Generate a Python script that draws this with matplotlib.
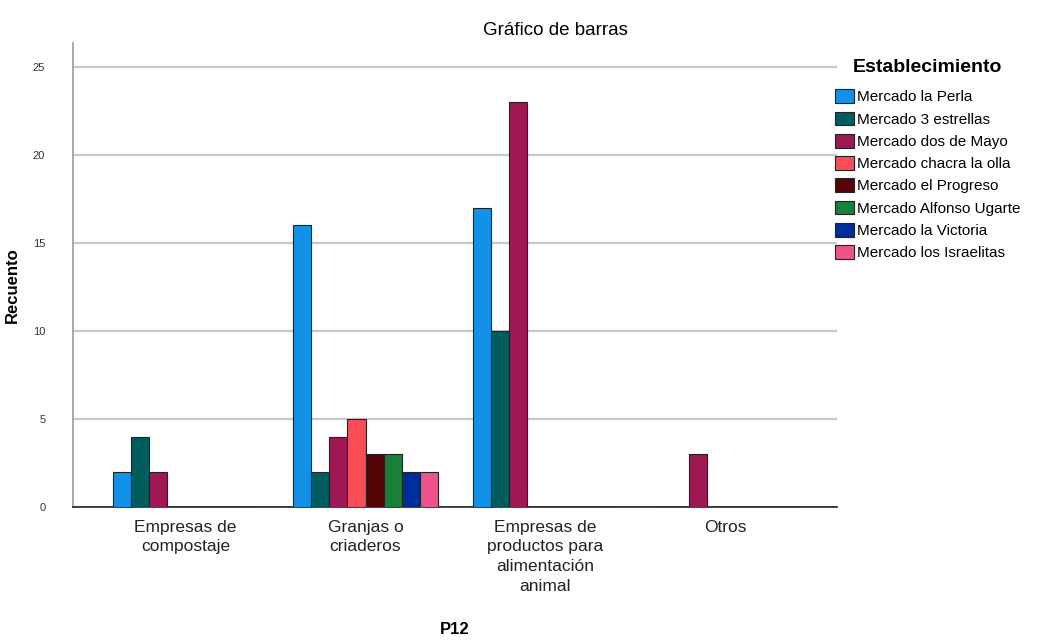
import numpy as np
import matplotlib
matplotlib.use("Agg")
import matplotlib.pyplot as plt

plt.rcParams['font.family'] = ['Liberation Sans', 'DejaVu Sans']

categories = ["Empresas de\ncompostaje", "Granjas o\ncriaderos",
              "Empresas de\nproductos para\nalimentación\nanimal", "Otros"]
mercados = ["Mercado la Perla", "Mercado 3 estrellas", "Mercado dos de Mayo",
            "Mercado chacra la olla", "Mercado el Progreso", "Mercado Alfonso Ugarte",
            "Mercado la Victoria", "Mercado los Israelitas"]
colores = ["#1192e8", "#005d5d", "#9f1853", "#fa4d56",
           "#570408", "#198038", "#002d9c", "#ee538b"]

la_perla = [2, 16, 17, 0]
tres_estrellas = [4, 2, 10, 0]
dos_de_mayo = [2, 4, 23, 3]
chacra_la_olla = [0, 5, 0, 0]
el_progreso = [0, 3, 0, 0]
alfonso_ugarte = [0, 3, 0, 0]
la_victoria = [0, 2, 0, 0]
los_israelitas = [0, 2, 0, 0]
series = [la_perla, tres_estrellas, dos_de_mayo, chacra_la_olla,
          el_progreso, alfonso_ugarte, la_victoria, los_israelitas]

fig = plt.figure(figsize=(10.48, 6.43), dpi=100)
ax = fig.add_axes([0.0697, 0.2115, 0.729, 0.7215])

x = np.arange(len(categories))
w = 0.101
n = len(series)
for i, (vals, name, col) in enumerate(zip(series, mercados, colores)):
    ax.bar(x + (i - (n - 1) / 2) * w, vals, w, color=col, edgecolor="#222222",
           linewidth=0.8, label=name, zorder=3)

ax.set_xlim(-0.625, 3.62)
ax.set_ylim(0, 26.34)
ax.set_yticks([0, 5, 10, 15, 20, 25])
ax.set_xticks(x)
ax.set_xticklabels(categories, fontsize=12.5, color="#222222", linespacing=1.4)
ax.tick_params(axis="y", length=0, pad=20, labelsize=8, labelcolor="#333333")
ax.tick_params(axis="x", length=0, pad=9)
ax.grid(axis="y", color="#c8c8c8", linewidth=1.6, zorder=0)

for s in ["top", "right"]:
    ax.spines[s].set_visible(False)
ax.spines["left"].set_color("#999999")
ax.spines["left"].set_linewidth(1.2)
ax.spines["bottom"].set_color("#222222")
ax.spines["bottom"].set_linewidth(1.2)

ax.set_ylabel("Recuento", fontsize=12, fontweight="bold")
ax.yaxis.set_label_coords(-0.069, 0.478)
ax.set_xlabel("P12", fontsize=12, fontweight="bold")
ax.xaxis.set_label_coords(0.5, -0.248)
fig.text(0.53, 0.953, "Gráfico de barras", ha="center", va="center", fontsize=13.5)

leg = ax.legend(loc="upper left", bbox_to_anchor=(0.797, 0.909),
                bbox_transform=fig.transFigure, frameon=False,
                title="Establecimiento", fontsize=11, handlelength=1.2,
                handleheight=1.0, handletextpad=0.2, labelspacing=0.47,
                borderaxespad=0, borderpad=0)
leg.get_title().set_fontweight("bold")
leg.get_title().set_fontsize(14)
leg._legend_box.sep = 10

fig.savefig("out.png", dpi=100)
